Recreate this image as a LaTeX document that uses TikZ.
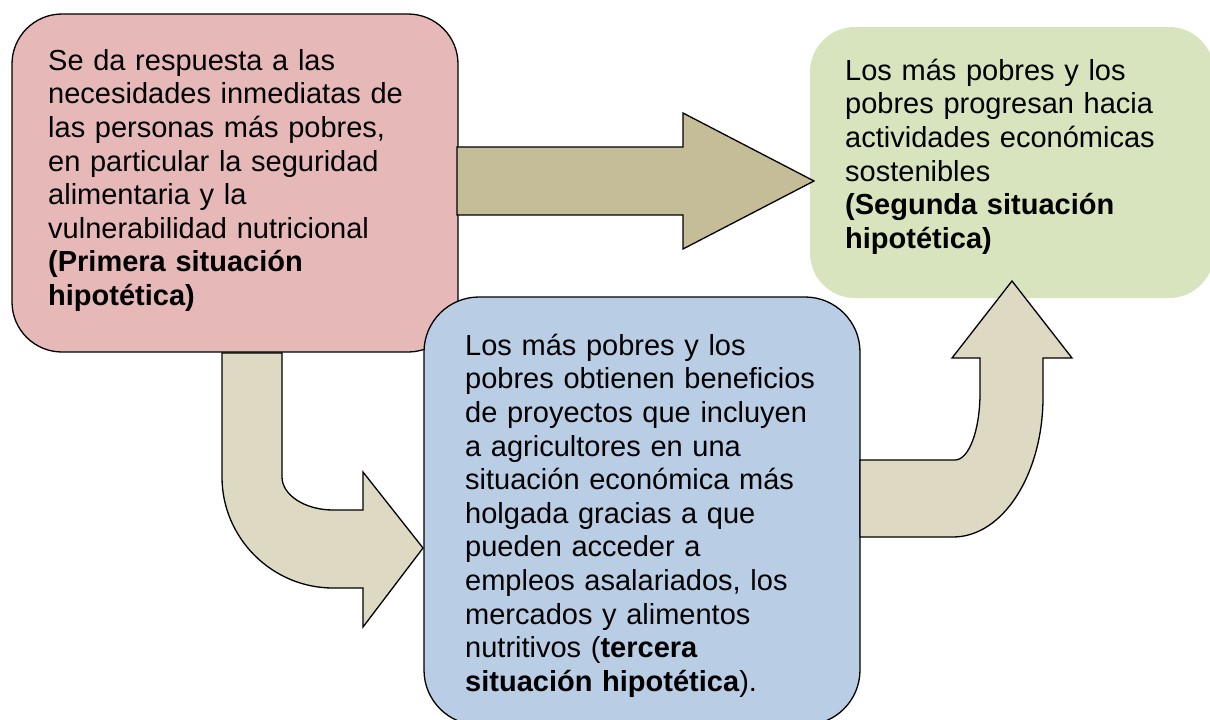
\documentclass[tikz,border=0pt]{standalone}
\usepackage{fontspec}
\setmainfont{Liberation Sans}
\definecolor{pinkfill}{HTML}{E6B9B8}
\definecolor{greenfill}{HTML}{D7E4BD}
\definecolor{bluefill}{HTML}{B9CDE5}
\definecolor{tandark}{HTML}{C4BD97}
\definecolor{tanlight}{HTML}{DDD9C3}
\begin{document}
\begin{tikzpicture}[x=1pt,y=-1pt,
  roundbox/.style={rectangle, line width=1.3pt, inner sep=0pt},
  txt/.style={anchor=north west, inner sep=0pt, align=left, text width=#1,
    font=\fontsize{29}{33.6}\selectfont},
  blockarrow/.style={draw=black, line width=1.3pt, line join=miter}]
\useasboundingbox (0,0) rectangle (1210,720);
\clip (0,0) rectangle (1210,720);
% boxes
\node[roundbox, draw=black, fill=pinkfill, rounded corners=50pt,
  minimum width=446pt, minimum height=338pt] (pink) at (235,183) {};
\node[roundbox, fill=greenfill, rounded corners=45pt,
  minimum width=404pt, minimum height=271pt] (green) at (1012,162.5) {};
\node[roundbox, draw=black, fill=bluefill, rounded corners=55pt,
  minimum width=436pt, minimum height=428pt] (blue) at (642,511) {};
% texts
\node[txt=400pt] (pinktext) at (48,46.5) {\strut Se da respuesta a las\\
necesidades inmediatas de\\
las personas más pobres,\\
en particular la seguridad\\
alimentaria y la\\
vulnerabilidad nutricional\\
\textbf{(Primera situación}\\
\textbf{hipotética)}};
\node[txt=360pt] (greentext) at (845,56.5) {\strut Los más pobres y los\\
pobres progresan hacia\\
actividades económicas\\
sostenibles\\
\textbf{(Segunda situación}\\
\textbf{hipotética)}};
\node[txt=390pt] (bluetext) at (465,331.5) {\strut Los más pobres y los\\
pobres obtienen beneficios\\
de proyectos que incluyen\\
a agricultores en una\\
situación económica más\\
holgada gracias a que\\
pueden acceder a\\
empleos asalariados, los\\
mercados y alimentos\\
nutritivos (\textbf{tercera}\\
\textbf{situación hipotética}).};
% straight arrow pink -> green
\path[blockarrow, fill=tandark] (457,147) -- (683,147) -- (683,113) -- (814,181)
  -- (683,249) -- (683,215) -- (457,215) -- cycle;
% bent arrow pink -> blue
\path[blockarrow, fill=tanlight] (222,353) -- (222,477)
  .. controls (222,538) and (272,588) .. (333,588)
  -- (363,588) -- (363,627) -- (423,548) -- (363,472) -- (363,510) -- (333,510)
  .. controls (305,510) and (282,495) .. (282,477)
  -- (282,353) -- cycle;
% bent arrow blue -> green
\path[blockarrow, fill=tanlight] (860,460) -- (955,460)
  .. controls (969,460) and (980,430) .. (980,393)
  -- (980,358) -- (952,358) -- (1012,281) -- (1072,358) -- (1043,358) -- (1043,397)
  .. controls (1043,474) and (1003,537) .. (953,537)
  -- (860,537) -- cycle;
\end{tikzpicture}
\end{document}
